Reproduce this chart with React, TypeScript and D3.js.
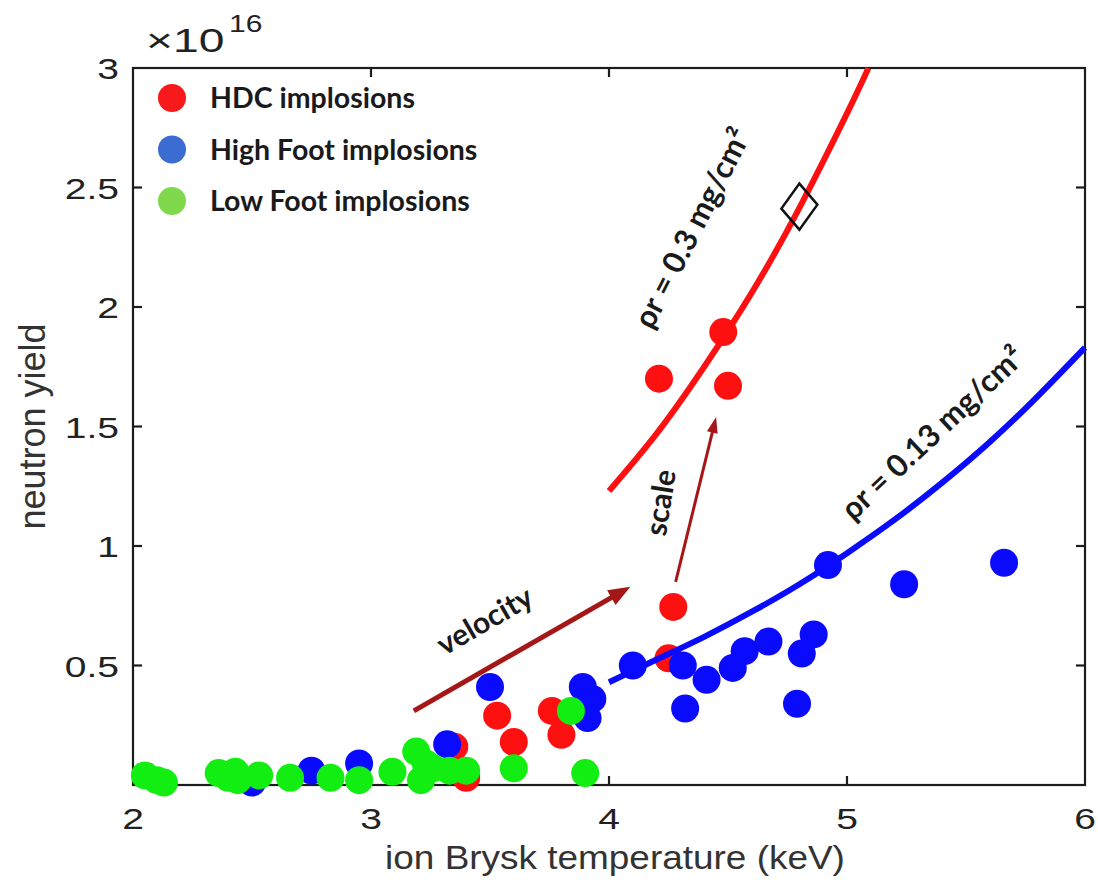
import React from 'react';
import * as d3 from 'd3';

const W = 1098;
const H = 880;

// axis ticks
const xTicks = [2, 3, 4, 5, 6];
const xTickLabels = ['2', '3', '4', '5', '6'];
const yTicks = [0.5, 1, 1.5, 2, 2.5, 3];
const yTickLabels = ['0.5', '1', '1.5', '2', '2.5', '3'];

// HDC implosions (T keV, yield x1e16)
const hdcT = [3.35, 3.40, 3.53, 3.60, 3.76, 3.80, 4.21, 4.25, 4.27, 4.48, 4.50];
const hdcY = [0.16, 0.03, 0.29, 0.18, 0.31, 0.21, 1.70, 0.53, 0.745, 1.895, 1.67];

// High Foot implosions
const highT = [2.50, 2.75, 2.95, 3.32, 3.50, 3.89, 3.93, 3.91, 4.10, 4.31, 4.32, 4.41, 4.52, 4.57, 4.67, 4.79, 4.81, 4.86, 4.92, 5.24, 5.66];
const highY = [0.01, 0.06, 0.09, 0.17, 0.41, 0.41, 0.36, 0.28, 0.50, 0.50, 0.32, 0.44, 0.49, 0.56, 0.60, 0.34, 0.55, 0.63, 0.92, 0.84, 0.93];

// Low Foot implosions
const lowT = [2.05, 2.10, 2.13, 2.36, 2.40, 2.43, 2.44, 2.53, 2.66, 2.83, 2.95, 3.09, 3.19, 3.23, 3.21, 3.26, 3.33, 3.40, 3.60, 3.84, 3.90];
const lowY = [0.04, 0.02, 0.01, 0.05, 0.03, 0.055, 0.02, 0.04, 0.03, 0.03, 0.02, 0.055, 0.14, 0.09, 0.02, 0.07, 0.06, 0.06, 0.07, 0.31, 0.05];

// model curves
const curve03T = [4.0, 4.2, 4.4, 4.6, 4.8, 5.0, 5.09];
const curve03Y = [1.23, 1.47, 1.75, 2.06, 2.415, 2.81, 3.0];
const curve013T = [4.0, 4.2, 4.4, 4.6, 4.8, 5.0, 5.2, 5.4, 5.6, 5.8, 6.0];
const curve013Y = [0.43, 0.525, 0.62, 0.725, 0.84, 0.97, 1.11, 1.265, 1.435, 1.625, 1.83];

// diamond marker
const diamondT = [4.80];
const diamondY = [2.42];

// arrows [x0, y0, x1, y1]
const velocityArrow = [3.18, 0.31, 4.09, 0.83];
const scaleArrow = [4.28, 0.85, 4.45, 1.54];

const legendLabels = ['HDC implosions', 'High Foot implosions', 'Low Foot implosions'];
const legendColors = ['#f8191c', '#3b6cd2', '#80d94c'];

const margin = { left: 133, right: 1085, top: 68, bottom: 785 };

export default function App() {
  const x = d3.scaleLinear().domain([2, 6]).range([margin.left, margin.right]);
  const y = d3.scaleLinear().domain([0, 3]).range([margin.bottom, margin.top]);

  const line = d3
    .line<[number, number]>()
    .x((d) => x(d[0]))
    .y((d) => y(d[1]))
    .curve(d3.curveNatural);

  const red = '#ff1010';
  const blue = '#0a0aff';
  const green = '#12ee12';
  const arrowColor = '#a51616';

  const arrow = (a: number[], lw: number, hl: number, hw: number) => {
    const x0 = x(a[0]), y0 = y(a[1]), x1 = x(a[2]), y1 = y(a[3]);
    const dx = x1 - x0, dy = y1 - y0;
    const len = Math.hypot(dx, dy);
    const ux = dx / len, uy = dy / len;
    const bx = x1 - ux * hl, by = y1 - uy * hl;
    const px = -uy, py = ux;
    const pts = [
      [x1, y1],
      [bx + px * hw / 2, by + py * hw / 2],
      [bx - px * hw / 2, by - py * hw / 2],
    ];
    return (
      <g>
        <line x1={x0} y1={y0} x2={bx + ux * 2} y2={by + uy * 2} stroke={arrowColor} strokeWidth={lw} />
        <polygon points={pts.map((p) => p.join(',')).join(' ')} fill={arrowColor} />
      </g>
    );
  };

  const numFont = '"Liberation Sans", Arial, Helvetica, sans-serif';
  const annFont = 'Lato, "Open Sans", sans-serif';

  return (
    <svg width={W} height={H} style={{ position: 'absolute', left: 0, top: 0, background: '#fff' }}>
      <rect x={0} y={0} width={W} height={H} fill="#fff" />
      {/* frame */}
      <rect
        x={margin.left}
        y={margin.top}
        width={margin.right - margin.left}
        height={margin.bottom - margin.top}
        fill="none"
        stroke="#1c1c1c"
        strokeWidth={2.2}
      />
      {xTicks.slice(1, -1).map((t) => (
        <g key={'xt' + t}>
          <line x1={x(t)} x2={x(t)} y1={margin.bottom} y2={margin.bottom - 9} stroke="#1c1c1c" strokeWidth={2.2} />
          <line x1={x(t)} x2={x(t)} y1={margin.top} y2={margin.top + 9} stroke="#1c1c1c" strokeWidth={2.2} />
        </g>
      ))}
      {yTicks.slice(0, -1).map((t) => (
        <g key={'yt' + t}>
          <line x1={margin.left} x2={margin.left + 9} y1={y(t)} y2={y(t)} stroke="#1c1c1c" strokeWidth={2.2} />
          <line x1={margin.right} x2={margin.right - 9} y1={y(t)} y2={y(t)} stroke="#1c1c1c" strokeWidth={2.2} />
        </g>
      ))}

      {/* tick labels */}
      {xTicks.map((t, i) => (
        <text
          key={'xl' + t}
          transform={`translate(${x(t)},${margin.bottom + 44}) scale(1.3,1)`}
          textAnchor="middle"
          fontFamily={numFont}
          fontSize={30}
          fill="#222"
        >
          {xTickLabels[i]}
        </text>
      ))}
      {yTicks.map((t, i) => (
        <text
          key={'yl' + t}
          transform={`translate(${margin.left - 14},${y(t) + 11}) scale(1.3,1)`}
          textAnchor="end"
          fontFamily={numFont}
          fontSize={30}
          fill="#222"
        >
          {yTickLabels[i]}
        </text>
      ))}
      <text transform="translate(146,52) scale(1.4,1)" fontFamily={numFont} fontSize={33} fill="#222">
        ×10
      </text>
      <text transform="translate(229,32) scale(1.25,1)" fontFamily={numFont} fontSize={24} fill="#222">
        16
      </text>

      {/* axis titles */}
      <text
        transform={`translate(615,869) scale(1.12,1)`}
        textAnchor="middle"
        fontFamily={numFont}
        fontSize={33}
        fill="#333"
      >
        ion Brysk temperature (keV)
      </text>
      <text
        transform={`translate(45,${(margin.top + margin.bottom) / 2}) rotate(-90)`}
        textAnchor="middle"
        fontFamily={numFont}
        fontSize={36}
        fill="#333"
      >
        neutron yield
      </text>

      {/* legend */}
      {legendLabels.map((l, i) => (
        <g key={l}>
          <circle cx={172} cy={98 + i * 51.5} r={14} fill={legendColors[i]} />
          <text x={210} y={108 + i * 51.5} fontFamily={annFont} fontWeight={700} fontSize={28.5} fill="#1a1a1a">
            {l}
          </text>
        </g>
      ))}

      {/* data points */}
      {hdcT.map((t, i) => (
        <circle key={'r' + i} cx={x(t)} cy={y(hdcY[i])} r={14} fill={red} />
      ))}
      {highT.map((t, i) => (
        <circle key={'b' + i} cx={x(t)} cy={y(highY[i])} r={14} fill={blue} />
      ))}
      {lowT.map((t, i) => (
        <circle key={'g' + i} cx={x(t)} cy={y(lowY[i])} r={14} fill={green} />
      ))}

      {/* model curves */}
      <path
        d={line(curve03T.map((t, i) => [t, curve03Y[i]] as [number, number])) || ''}
        fill="none"
        stroke={red}
        strokeWidth={6}
      />
      <path
        d={line(curve013T.map((t, i) => [t, curve013Y[i]] as [number, number])) || ''}
        fill="none"
        stroke={blue}
        strokeWidth={6}
      />
      {diamondT.map((t, i) => {
        const cx = x(t), cy = y(diamondY[i]);
        return (
          <polygon
            key={'d' + i}
            points={`${cx},${cy - 23} ${cx + 18},${cy - 2} ${cx},${cy + 23} ${cx - 18},${cy + 2}`}
            fill="none"
            stroke="#111"
            strokeWidth={2.5}
          />
        );
      })}

      {/* arrows */}
      {arrow(velocityArrow, 5, 22, 17)}
      {arrow(scaleArrow, 3, 16, 11)}

      {/* annotations */}
      <text
        transform={`translate(${x(4.39)},${y(2.31)}) rotate(-63)`}
        textAnchor="middle"
        fontFamily={annFont}
        fontWeight={700}
        fontSize={31}
        fill="#1a1a1a"
      >
        ρr = 0.3 mg/cm²
      </text>
      <text
        transform={`translate(${x(5.39)},${y(1.44)}) rotate(-43)`}
        textAnchor="middle"
        fontFamily={annFont}
        fontWeight={700}
        fontSize={31}
        fill="#1a1a1a"
      >
        ρr = 0.13 mg/cm²
      </text>
      <text
        transform={`translate(${x(3.5)},${y(0.65)}) rotate(-30)`}
        textAnchor="middle"
        fontFamily={annFont}
        fontWeight={700}
        fontSize={30}
        fill="#1a1a1a"
      >
        velocity
      </text>
      <text
        transform={`translate(${x(4.26)},${y(1.175)}) rotate(-81)`}
        textAnchor="middle"
        fontFamily={annFont}
        fontWeight={700}
        fontSize={30}
        fill="#1a1a1a"
      >
        scale
      </text>
    </svg>
  );
}
